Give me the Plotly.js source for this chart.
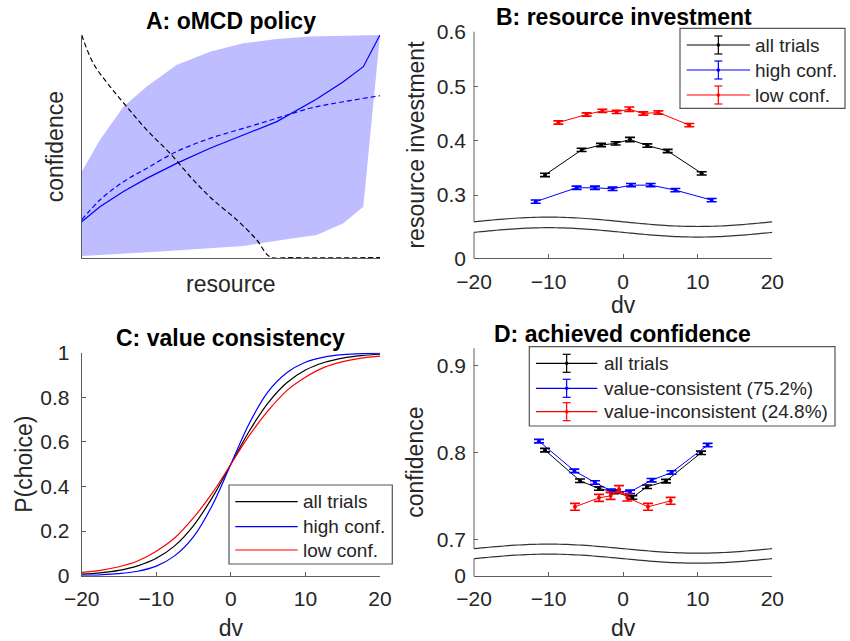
<!DOCTYPE html>
<html><head><meta charset="utf-8">
<script src="https://cdn.plot.ly/plotly-3.0.1.min.js"></script>
<style>html,body{margin:0;padding:0;background:#fff}#chart{width:850px;height:641px}</style>
</head><body><div id="chart"></div>
<script>
// ---------- Panel A: oMCD policy (normalized resource / confidence) ----------
const aBandUpperX = [0, 0.061, 0.140, 0.218, 0.318, 0.430, 0.542, 0.654, 0.765, 0.877, 1];
const aBandUpperY = [0.388, 0.530, 0.679, 0.769, 0.866, 0.925, 0.963, 0.982, 0.993, 0.997, 1.0];
const aBandLowerX = [0, 0.263, 0.542, 0.709, 0.788, 0.877, 0.944, 1];
const aBandLowerY = [0.010, 0.030, 0.055, 0.090, 0.104, 0.157, 0.231, 1.0];
const aSolidX = [0, 0.061, 0.140, 0.218, 0.318, 0.430, 0.542, 0.654, 0.788, 0.877, 0.944, 1];
const aSolidY = [0.164, 0.231, 0.299, 0.358, 0.425, 0.493, 0.552, 0.612, 0.713, 0.791, 0.858, 1.0];
const aDashX = [0, 0.061, 0.140, 0.218, 0.318, 0.430, 0.542, 0.654, 0.765, 0.877, 1];
const aDashY = [0.172, 0.261, 0.343, 0.403, 0.478, 0.537, 0.582, 0.627, 0.672, 0.701, 0.728];
const aCostX = [0, 0.039, 0.095, 0.151, 0.218, 0.296, 0.374, 0.441, 0.520, 0.587, 0.631, 0.70, 1];
const aCostY = [1.0, 0.873, 0.769, 0.679, 0.575, 0.470, 0.351, 0.261, 0.172, 0.082, 0.007, 0.003, 0.003];

// ---------- Panel B: resource investment ----------
const bAllDv  = [-10.48, -5.57, -2.97, -1.01, 0.92, 3.24, 5.97, 10.53];
const bAllVal = [0.337, 0.383, 0.392, 0.395, 0.402, 0.391, 0.381, 0.340];
const bAllErr = [0.003, 0.003, 0.003, 0.003, 0.004, 0.003, 0.003, 0.003];
const bHighDv  = [-11.73, -6.24, -3.78, -1.41, 1.05, 3.69, 7.00, 11.87];
const bHighVal = [0.288, 0.3135, 0.3135, 0.3116, 0.3183, 0.3183, 0.3092, 0.2908];
const bHighErr = [0.003, 0.003, 0.003, 0.003, 0.003, 0.003, 0.003, 0.003];
const bLowDv  = [-8.69, -4.90, -2.79, -0.87, 0.83, 2.70, 4.72, 8.87];
const bLowVal = [0.4333, 0.448, 0.4547, 0.4529, 0.4578, 0.4498, 0.4517, 0.4284];
const bLowErr = [0.003, 0.003, 0.003, 0.003, 0.004, 0.003, 0.003, 0.003];
const bTickVals = [0.184, 0.3, 0.4, 0.5, 0.6];
const bTickText = ['0', '0.3', '0.4', '0.5', '0.6'];

// ---------- Panel C: value consistency ----------
const cDv   = [-20, -17.5, -15, -12.5, -10, -7.5, -5, -2.5, 0, 2.5, 5, 7.5, 10, 12.5, 15, 17.5, 20];
const cAll  = [0.007, 0.013, 0.024, 0.044, 0.078, 0.135, 0.225, 0.35, 0.50, 0.65, 0.775, 0.865, 0.922, 0.956, 0.976, 0.987, 0.993];
const cHigh = [0.002, 0.004, 0.009, 0.020, 0.043, 0.090, 0.175, 0.315, 0.50, 0.685, 0.825, 0.910, 0.957, 0.980, 0.991, 0.996, 0.998];
const cLow  = [0.015, 0.024, 0.040, 0.066, 0.110, 0.170, 0.260, 0.370, 0.50, 0.630, 0.740, 0.830, 0.890, 0.934, 0.960, 0.976, 0.985];

// ---------- Panel D: achieved confidence ----------
const dAllDv  = [-10.48, -5.79, -3.24, -1.18, 1.23, 3.20, 5.74, 10.44];
const dAllVal = [0.8031, 0.7679, 0.7590, 0.7552, 0.7487, 0.7610, 0.7675, 0.8000];
const dAllErr = [0.002, 0.002, 0.002, 0.002, 0.002, 0.002, 0.002, 0.002];
const dConsDv  = [-11.29, -6.55, -3.78, -1.63, 0.92, 3.82, 6.50, 11.33];
const dConsVal = [0.8134, 0.7793, 0.7659, 0.7564, 0.7552, 0.7686, 0.7774, 0.8089];
const dConsErr = [0.002, 0.002, 0.002, 0.002, 0.002, 0.002, 0.002, 0.002];
const dIncDv  = [-6.46, -3.24, -1.68, -0.56, 0.56, 3.33, 6.37];
const dIncVal = [0.738, 0.7483, 0.7506, 0.7583, 0.7487, 0.738, 0.7449];
const dIncErr = [0.004, 0.004, 0.004, 0.004, 0.004, 0.004, 0.004];
const dTickVals = [0.6586, 0.7, 0.8, 0.9];
const dTickText = ['0', '0.7', '0.8', '0.9'];

const dvTicks = [-20, -10, 0, 10, 20];
const legB = ['all trials', 'high conf.', 'low conf.'];
const legD = ['all trials', 'value-consistent (75.2%)', 'value-inconsistent (24.8%)'];

// ---------- styling ----------
const FONT = '"Liberation Sans", Arial, Helvetica, sans-serif';
const AX = '#5c5c5c', TXT = '#262626';
const BLK = 'rgb(0,0,0)', BLU = 'rgb(0,0,255)', RED = 'rgb(255,0,0)';
const W = 850, H = 641;
const PX = v => v / W, PY = v => 1 - v / H;
const rangeB = [0.184, 0.6], rangeD = [0.6586, 0.92];

function errTrace(x, y, e, color, xa, ya) {
  return {x: x, y: y, xaxis: xa, yaxis: ya, mode: 'lines+markers', type: 'scatter',
    line: {color: color, width: 1}, marker: {color: color, size: 4},
    error_y: {type: 'data', array: e, visible: true, color: color, thickness: 1.6, width: 5},
    hoverinfo: 'skip', showlegend: false};
}
function lineTrace(x, y, color, dash, xa, ya, shape) {
  return {x: x, y: y, xaxis: xa, yaxis: ya, mode: 'lines', type: 'scatter',
    line: {color: color, width: 1.2, dash: dash || 'solid', shape: shape || 'linear'},
    hoverinfo: 'skip', showlegend: false};
}

const traces = [
  {x: aBandUpperX.concat(aBandLowerX.slice().reverse()), y: aBandUpperY.concat(aBandLowerY.slice().reverse()),
   xaxis: 'x', yaxis: 'y', type: 'scatter', mode: 'lines', fill: 'toself', fillcolor: 'rgb(189,189,255)',
   line: {width: 0, color: 'rgba(0,0,0,0)'}, hoverinfo: 'skip', showlegend: false},
  lineTrace(aSolidX, aSolidY, BLU, 'solid', 'x', 'y'),
  lineTrace(aDashX, aDashY, BLU, '5px,3px', 'x', 'y', 'spline'),
  lineTrace(aCostX, aCostY, BLK, '5px,3px', 'x', 'y', 'spline'),
  errTrace(bAllDv, bAllVal, bAllErr, BLK, 'x2', 'y2'),
  errTrace(bHighDv, bHighVal, bHighErr, BLU, 'x2', 'y2'),
  errTrace(bLowDv, bLowVal, bLowErr, RED, 'x2', 'y2'),
  lineTrace(cDv, cAll, BLK, 'solid', 'x3', 'y3', 'spline'),
  lineTrace(cDv, cHigh, BLU, 'solid', 'x3', 'y3', 'spline'),
  lineTrace(cDv, cLow, RED, 'solid', 'x3', 'y3', 'spline'),
  errTrace(dAllDv, dAllVal, dAllErr, BLK, 'x4', 'y4'),
  errTrace(dConsDv, dConsVal, dConsErr, BLU, 'x4', 'y4'),
  errTrace(dIncDv, dIncVal, dIncErr, RED, 'x4', 'y4')
];

const tickFont = {family: FONT, size: 21, color: TXT};
const titleFont = {family: FONT, size: 23, color: TXT};
function axis(domain, range, extra) {
  return Object.assign({domain: domain, range: range, showgrid: false, zeroline: false,
    showline: true, linecolor: AX, linewidth: 1, ticks: 'inside', ticklen: 4, tickcolor: AX,
    tickfont: tickFont, fixedrange: true, mirror: false}, extra);
}

const xDomL = [PX(81.7), PX(380)], xDomR = [PX(474), PX(772.3)];
const XSO = 4, YSO = 7;
const layout = {
  width: W, height: H, margin: {l: 0, r: 0, t: 0, b: 0},
  paper_bgcolor: 'white', plot_bgcolor: 'white', showlegend: false,
  font: {family: FONT, color: TXT},
  xaxis: axis(xDomL, [0, 1], {anchor: 'y', ticks: '', showticklabels: false,
    title: {text: 'resource', font: titleFont, standoff: 17}}),
  yaxis: axis([PY(258.3), PY(35)], [0, 1], {anchor: 'x', ticks: '', showticklabels: false,
    title: {text: 'confidence', font: titleFont, standoff: 10}}),
  xaxis2: axis(xDomR, [-20, 20], {anchor: 'y2', tickvals: dvTicks, ticklabelstandoff: XSO,
    title: {text: 'dv', font: titleFont, standoff: 5}}),
  yaxis2: axis([PY(258.3), PY(31.7)], rangeB, {anchor: 'x2', showline: false, tickvals: bTickVals, ticktext: bTickText,
    ticklabelstandoff: YSO, title: {text: 'resource investment', font: titleFont, standoff: 5}}),
  xaxis3: axis(xDomL, [-20, 20], {anchor: 'y3', tickvals: dvTicks, ticklabelstandoff: XSO,
    title: {text: 'dv', font: titleFont, standoff: 11}}),
  yaxis3: axis([PY(575.7), PY(352.7)], [0, 1], {anchor: 'x3', tickvals: [0, 0.2, 0.4, 0.6, 0.8, 1],
    ticktext: ['0', '0.2', '0.4', '0.6', '0.8', '1'], ticklabelstandoff: YSO,
    title: {text: 'P(choice)', font: titleFont, standoff: 1}}),
  xaxis4: axis(xDomR, [-20, 20], {anchor: 'y4', tickvals: dvTicks, ticklabelstandoff: XSO,
    title: {text: 'dv', font: titleFont, standoff: 11}}),
  yaxis4: axis([PY(576), PY(348.3)], rangeD, {anchor: 'x4', showline: false, tickvals: dTickVals, ticktext: dTickText,
    ticklabelstandoff: YSO, title: {text: 'confidence', font: titleFont, standoff: 6}}),
  shapes: [], annotations: []
};

// panel titles
[['A: oMCD policy', 230.7, 21], ['B: resource investment', 623.5, 17],
 ['C: value consistency', 230.7, 338], ['D: achieved confidence', 622.7, 334]].forEach(t => {
  layout.annotations.push({text: '<b>' + t[0] + '</b>', xref: 'paper', yref: 'paper', x: PX(t[1]), y: PY(t[2]),
    xanchor: 'center', yanchor: 'middle', showarrow: false, font: {family: FONT, size: 23, color: '#000'}});
});

// axis-break decoration (wavy lines) and broken y-axis line
function wavePath(center, amp) {
  let d = '';
  for (let i = 0; i <= 80; i++) {
    const x = -20 + i * 0.5;
    d += (i ? 'L' : 'M') + x + ',' + (center + amp * Math.sin(Math.PI * (x + 20) / 20));
  }
  return d;
}
function addBreak(xa, ya, range, upC, loC, amp) {
  [upC, loC].forEach(c => layout.shapes.push({type: 'path', xref: xa, yref: ya, path: wavePath(c, amp),
    line: {color: '#333', width: 1.2}}));
  const f = v => (v - range[0]) / (range[1] - range[0]);
  layout.shapes.push({type: 'line', xref: xa + ' domain', yref: ya + ' domain', x0: 0, x1: 0, y0: 1, y1: f(upC), line: {color: AX, width: 1}});
  layout.shapes.push({type: 'line', xref: xa + ' domain', yref: ya + ' domain', x0: 0, x1: 0, y0: f(loC), y1: 0, line: {color: AX, width: 1}});
}
addBreak('x2', 'y2', rangeB, 0.251, 0.2316, 0.0086);
addBreak('x4', 'y4', rangeD, 0.690, 0.6785, 0.0052);

// manual legends (MATLAB style with error-bar glyphs)
function addLegend(box, rowsY, labels, lx0, lx1, tx, withErr) {
  const colors = [BLK, BLU, RED];
  layout.shapes.push({type: 'rect', xref: 'paper', yref: 'paper', x0: PX(box[0]), x1: PX(box[2]), y0: PY(box[3]), y1: PY(box[1]),
    line: {color: '#555', width: 1.2}, fillcolor: 'white', layer: 'above'});
  rowsY.forEach((ry, i) => {
    const c = colors[i];
    layout.shapes.push({type: 'line', xref: 'paper', yref: 'paper', x0: PX(lx0), x1: PX(lx1), y0: PY(ry), y1: PY(ry), line: {color: c, width: 1.2}});
    if (withErr) {
      const ex = (lx0 + lx1) / 2;
      layout.shapes.push({type: 'line', xref: 'paper', yref: 'paper', x0: PX(ex), x1: PX(ex), y0: PY(ry - 9), y1: PY(ry + 9), line: {color: c, width: 1.2}});
      [ry - 9, ry + 9].forEach(cy => layout.shapes.push({type: 'line', xref: 'paper', yref: 'paper', x0: PX(ex - 4), x1: PX(ex + 4), y0: PY(cy), y1: PY(cy), line: {color: c, width: 1.2}}));
      layout.shapes.push({type: 'circle', xref: 'paper', yref: 'paper', x0: PX(ex - 1.5), x1: PX(ex + 1.5), y0: PY(ry + 1.5), y1: PY(ry - 1.5), fillcolor: c, line: {color: c, width: 0.5}});
    }
    layout.annotations.push({text: labels[i], xref: 'paper', yref: 'paper', x: PX(tx), y: PY(ry), xanchor: 'left', yanchor: 'middle',
      showarrow: false, font: {family: FONT, size: 19, color: TXT}});
  });
}
addLegend([680, 28.3, 845, 108.3], [45, 70, 95], legB, 686.7, 750, 753, true);
addLegend([229, 485, 392.3, 564], [501.7, 526.7, 550], legB, 235.3, 297.7, 301, false);
addLegend([529.3, 346.7, 835, 426], [363.3, 388.3, 411.7], legD, 536, 597.3, 602, true);

Plotly.newPlot('chart', traces, layout, {staticPlot: true, displayModeBar: false});
</script></body></html>
